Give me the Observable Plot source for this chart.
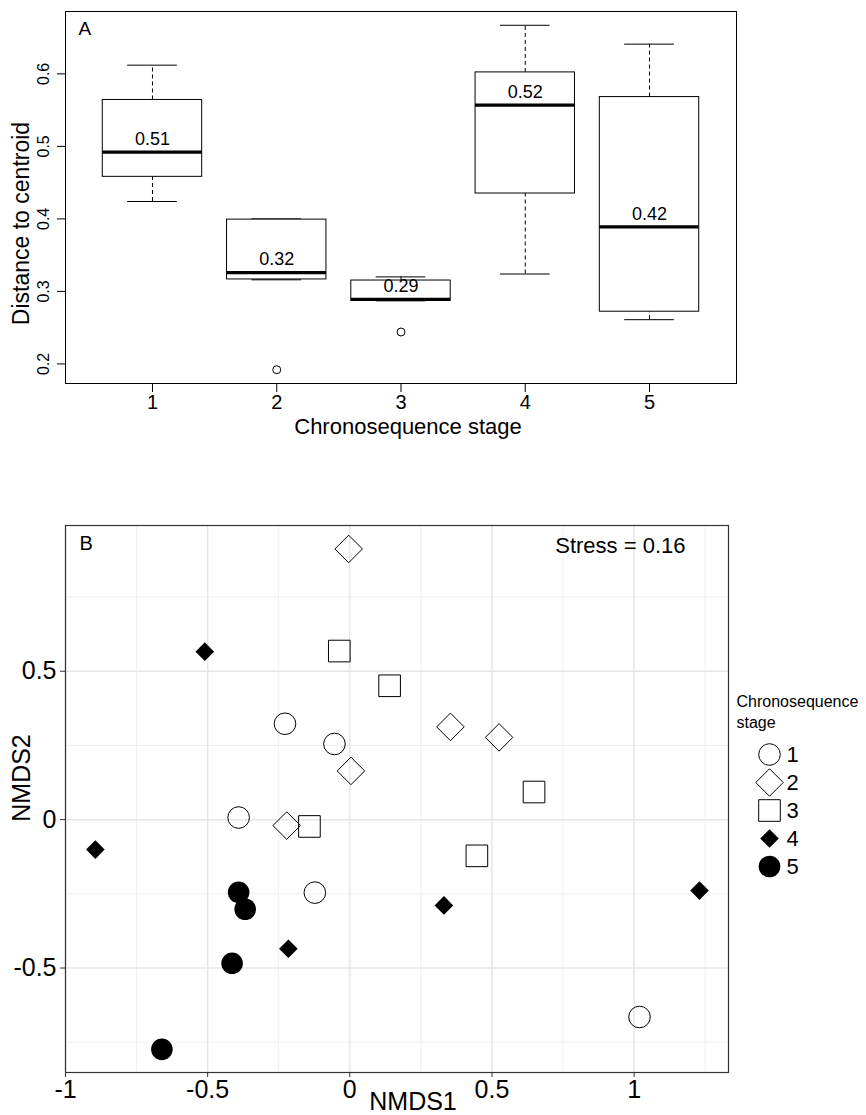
<!DOCTYPE html>
<html>
<head>
<meta charset="utf-8">
<script src="https://cdn.jsdelivr.net/npm/d3@7"></script>
<script src="https://cdn.jsdelivr.net/npm/@observablehq/plot@0.6"></script>
<style>
  body { margin: 0; background: white; }
  #chart { position: relative; width: 866px; height: 1115px; background: white; overflow: hidden; }
  #chart svg { position: absolute; overflow: visible; }
</style>
</head>
<body>
<div id="chart"></div>
<script>
// ---------- Panel A data (boxplot of distance to centroid) ----------
const stages = [1, 2, 3, 4, 5];
const whiskerLow = [0.424, 0.316, 0.287, 0.324, 0.261];
const lowerQuartile = [0.458, 0.3165, 0.287, 0.435, 0.272];
const medians = [0.492, 0.326, 0.289, 0.557, 0.389];
const upperQuartile = [0.564, 0.399, 0.315, 0.602, 0.568];
const whiskerHigh = [0.612, 0.400, 0.320, 0.667, 0.641];
const meanLabels = ["0.51", "0.32", "0.29", "0.52", "0.42"];
const outlierStages = [2, 3];
const outlierValues = [0.192, 0.244];
const yTicksA = [0.2, 0.3, 0.4, 0.5, 0.6];

// ---------- Panel B data (NMDS ordination) ----------
const nmds1Stage1 = [-0.228, -0.054, -0.391, -0.123, 1.019];
const nmds2Stage1 = [0.323, 0.255, 0.007, -0.246, -0.665];
const nmds1Stage2 = [-0.004, 0.354, 0.525, 0.004, -0.222];
const nmds2Stage2 = [0.912, 0.3125, 0.277, 0.164, -0.020];
const nmds1Stage3 = [-0.037, 0.140, 0.648, -0.142, 0.447];
const nmds2Stage3 = [0.568, 0.451, 0.093, -0.023, -0.122];
const nmds1Stage4 = [-0.510, -0.895, -0.216, 0.331, 1.230];
const nmds2Stage4 = [0.566, -0.101, -0.435, -0.289, -0.239];
const nmds1Stage5 = [-0.391, -0.368, -0.414, -0.661];
const nmds2Stage5 = [-0.245, -0.302, -0.484, -0.774];
const xTicksB = [-1, -0.5, 0, 0.5, 1];
const xMinorB = [-0.75, -0.25, 0.25, 0.75, 1.25];
const yTicksB = [-0.5, 0, 0.5];
const yMinorB = [-0.75, -0.25, 0.25, 0.75];
const stressLabel = "Stress = 0.16";
const legendTitle = "Chronosequence\nstage";

const FONT = "'Liberation Sans', Arial, Helvetica, sans-serif";
const chart = document.getElementById("chart");

// ---------- Panel A ----------
const boxData = stages.map((s, i) => ({
  stage: s, lo: whiskerLow[i], q1: lowerQuartile[i], med: medians[i],
  q3: upperQuartile[i], hi: whiskerHigh[i], label: meanLabels[i]
}));
const outliers = outlierStages.map((s, i) => ({stage: s, value: outlierValues[i]}));

const plotA = Plot.plot({
  width: 866, height: 440,
  marginTop: 11, marginBottom: 57, marginLeft: 65, marginRight: 130,
  x: {domain: [0.3, 5.7]},
  y: {domain: [0.173, 0.686]},
  style: {fontFamily: FONT, background: "white", color: "black"},
  marks: [
    Plot.ruleX(boxData, {x: "stage", y1: "q3", y2: "hi", stroke: "black", strokeDasharray: "4,3"}),
    Plot.ruleX(boxData, {x: "stage", y1: "lo", y2: "q1", stroke: "black", strokeDasharray: "4,3"}),
    Plot.ruleY(boxData, {y: "hi", x1: d => d.stage - 0.2, x2: d => d.stage + 0.2, stroke: "black"}),
    Plot.ruleY(boxData, {y: "lo", x1: d => d.stage - 0.2, x2: d => d.stage + 0.2, stroke: "black"}),
    Plot.rect(boxData, {x1: d => d.stage - 0.4, x2: d => d.stage + 0.4, y1: "q1", y2: "q3",
      fill: "white", stroke: "black", strokeWidth: 1}),
    Plot.ruleY(boxData, {y: "med", x1: d => d.stage - 0.4, x2: d => d.stage + 0.4, stroke: "black", strokeWidth: 3.2}),
    Plot.text(boxData, {x: "stage", y: "med", text: "label", dy: -13, fontSize: 18, fill: "black"}),
    Plot.dot(outliers, {x: "stage", y: "value", r: 4, stroke: "black", fill: "none", strokeWidth: 1}),
    Plot.frame({stroke: "black", strokeWidth: 1}),
    Plot.axisX({ticks: stages, tickSize: 9, tickPadding: 2, fontSize: 20, tickFormat: d => String(d), label: null, stroke: "black"}),
    Plot.axisY({ticks: yTicksA, tickSize: 8, tickFormat: () => "", label: null, stroke: "black"}),
    Plot.text(yTicksA, {y: d => d, text: d => d.toFixed(1), frameAnchor: "left", textAnchor: "middle", lineAnchor: "middle",
      dx: -22, rotate: -90, fontSize: 16, fill: "black"}),
    Plot.text(["Distance to centroid"], {frameAnchor: "left", textAnchor: "middle", lineAnchor: "middle",
      dx: -44, dy: 26, rotate: -90, fontSize: 23, fill: "black"}),
    Plot.text(["Chronosequence stage"], {frameAnchor: "bottom", textAnchor: "middle", lineAnchor: "middle",
      dx: 7, dy: 43, fontSize: 22, fill: "black"}),
    Plot.text(["A"], {frameAnchor: "top-left", dx: 13, dy: 17, textAnchor: "start", lineAnchor: "middle", fontSize: 19, fill: "black"})
  ]
});
plotA.style.left = "0px";
plotA.style.top = "0px";
chart.appendChild(plotA);

// ---------- Panel B ----------
const groups = [
  {stage: 1, xs: nmds1Stage1, ys: nmds2Stage1},
  {stage: 2, xs: nmds1Stage2, ys: nmds2Stage2},
  {stage: 3, xs: nmds1Stage3, ys: nmds2Stage3},
  {stage: 4, xs: nmds1Stage4, ys: nmds2Stage4},
  {stage: 5, xs: nmds1Stage5, ys: nmds2Stage5}
];
const shapeStyle = {
  1: {symbol: "circle", r: 10.8, fill: "none", stroke: "black", strokeWidth: 1},
  2: {symbol: "diamond2", r: 12.4, fill: "none", stroke: "black", strokeWidth: 1},
  3: {symbol: "square", r: 12.2, fill: "none", stroke: "black", strokeWidth: 1},
  4: {symbol: "diamond2", r: 8.4, fill: "black", stroke: "none"},
  5: {symbol: "circle", r: 10.8, fill: "black", stroke: "none"}
};
const pointMarks = groups.map(g => {
  const pts = g.xs.map((x, i) => ({x, y: g.ys[i]}));
  return Plot.dot(pts, {x: "x", y: "y", ...shapeStyle[g.stage]});
});

const plotB = Plot.plot({
  width: 866, height: 675,
  marginTop: 85, marginBottom: 43, marginLeft: 65, marginRight: 138,
  x: {domain: [-1.0, 1.332]},
  y: {domain: [-0.852, 0.991]},
  style: {fontFamily: FONT, background: "transparent", color: "black"},
  marks: [
    Plot.gridX(xMinorB, {stroke: "#ececec", strokeOpacity: 1, strokeWidth: 0.9}),
    Plot.gridY(yMinorB, {stroke: "#ececec", strokeOpacity: 1, strokeWidth: 0.9}),
    Plot.gridX(xTicksB, {stroke: "#e6e6e6", strokeOpacity: 1, strokeWidth: 1.5}),
    Plot.gridY(yTicksB, {stroke: "#e6e6e6", strokeOpacity: 1, strokeWidth: 1.5}),
    ...pointMarks,
    Plot.frame({stroke: "#333333", strokeWidth: 1.2}),
    Plot.axisX({ticks: xTicksB, tickSize: 5, tickPadding: 3, fontSize: 25, tickFormat: d => String(d), label: null, stroke: "#333333"}),
    Plot.axisY({ticks: yTicksB, tickSize: 5, tickPadding: 4, fontSize: 25, tickFormat: d => String(d), label: null, stroke: "#333333"}),
    Plot.text(["NMDS1"], {frameAnchor: "bottom", textAnchor: "middle", lineAnchor: "middle", dx: 16, dy: 29, fontSize: 25, fill: "black"}),
    Plot.text(["NMDS2"], {frameAnchor: "left", textAnchor: "middle", lineAnchor: "middle", dx: -44, dy: -21, rotate: -90, fontSize: 25, fill: "black"}),
    Plot.text([stressLabel], {frameAnchor: "top-right", dx: -43, dy: 20, textAnchor: "end", lineAnchor: "middle", fontSize: 22, fill: "black"}),
    Plot.text(["B"], {frameAnchor: "top-left", dx: 14, dy: 18, textAnchor: "start", lineAnchor: "middle", fontSize: 20, fill: "black"})
  ]
});
plotB.style.left = "0px";
plotB.style.top = "440px";
chart.appendChild(plotB);

// ---------- Legend for panel B ----------
const legendMarks = stages.map(s =>
  Plot.dot([s], {y: d => d, frameAnchor: "left", dx: 39, ...shapeStyle[s]})
);
const legend = Plot.plot({
  width: 136, height: 190,
  marginTop: 63, marginBottom: 14, marginLeft: 0, marginRight: 0,
  x: {axis: null},
  y: {type: "point", domain: stages, padding: 0, axis: null},
  style: {fontFamily: FONT, background: "transparent", color: "black"},
  marks: [
    ...legendMarks,
    Plot.text(stages, {y: d => d, text: d => String(d), frameAnchor: "left", dx: 56, textAnchor: "start", lineAnchor: "middle", fontSize: 22, fill: "black"}),
    Plot.text([legendTitle], {frameAnchor: "top-left", dx: 6, dy: -43, textAnchor: "start", lineAnchor: "middle", lineHeight: 1.3, fontSize: 16, fill: "black"})
  ]
});
legend.style.left = "730px";
legend.style.top = "690px";
chart.appendChild(legend);
</script>
</body>
</html>
